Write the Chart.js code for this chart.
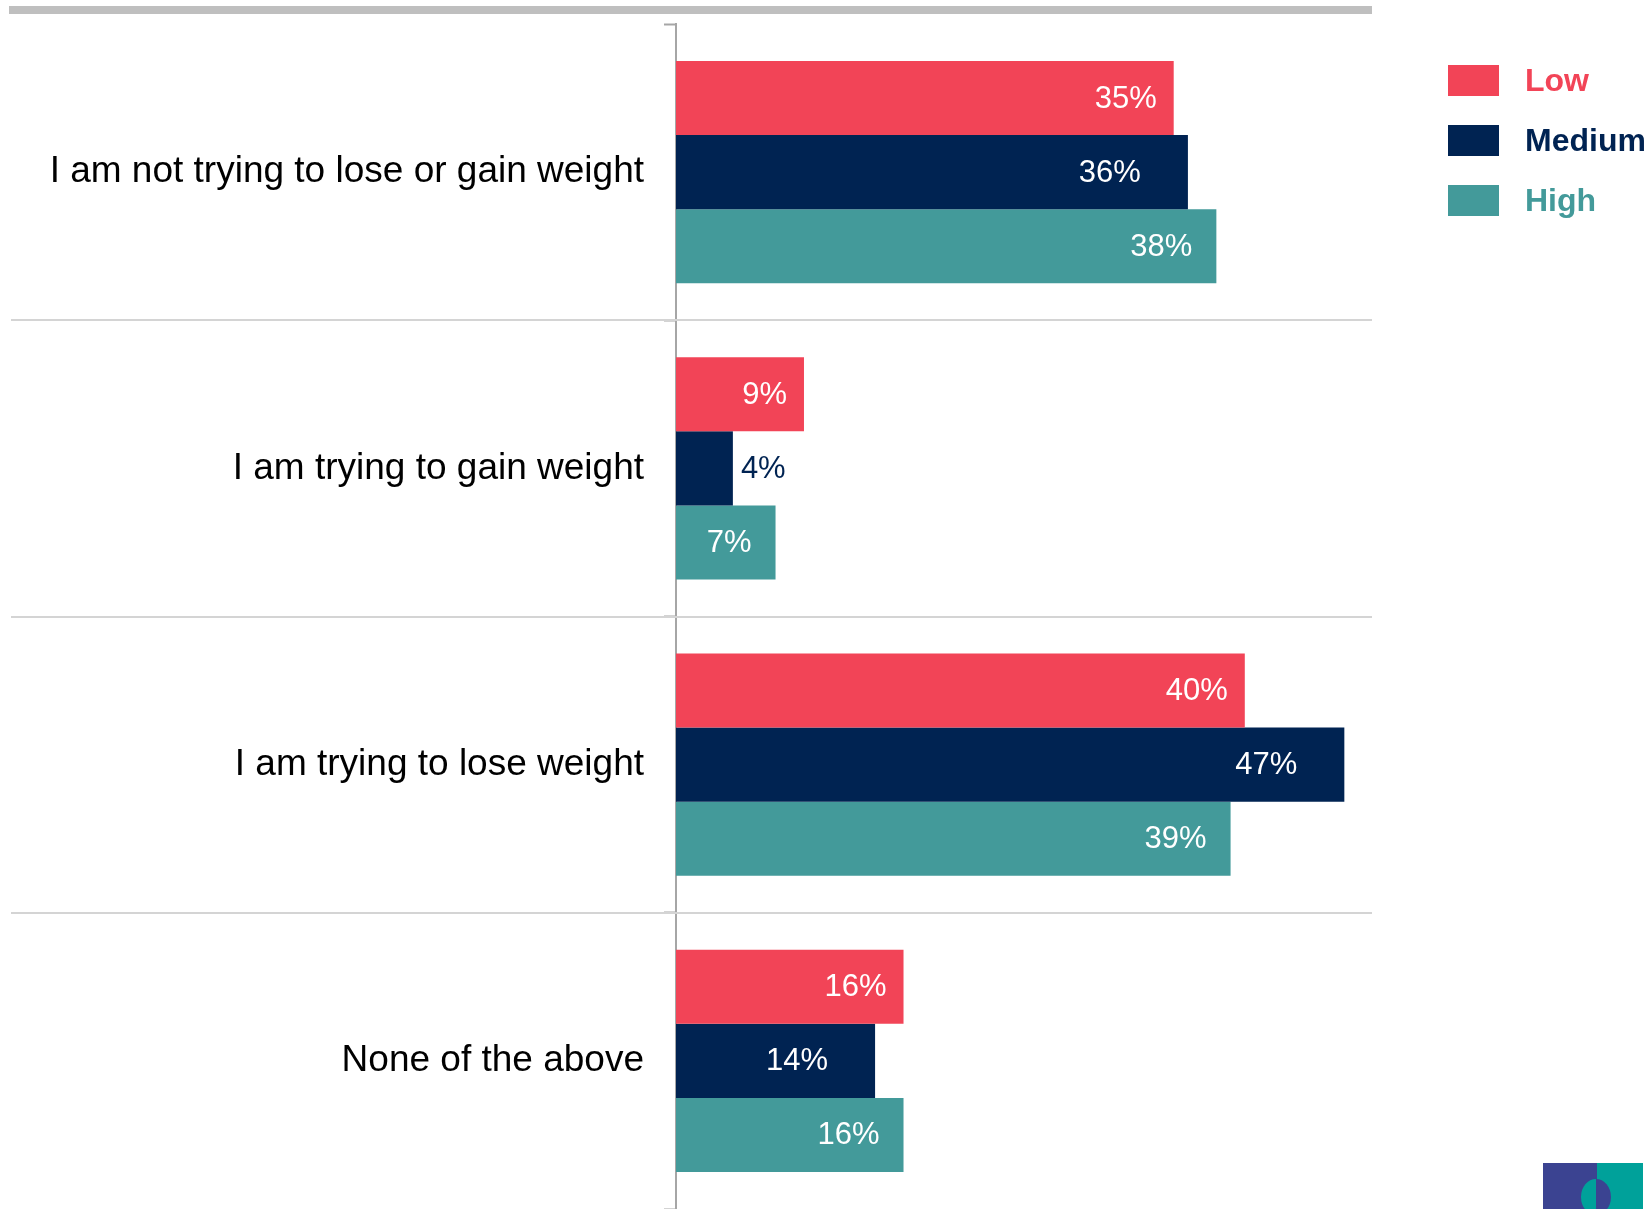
<!DOCTYPE html>
<html>
<head>
<meta charset="utf-8">
<script src="https://cdn.jsdelivr.net/npm/chart.js@4/dist/chart.umd.min.js"></script>
<style>
  html, body { margin: 0; padding: 0; background: #ffffff; }
  #wrap { position: relative; width: 1647px; height: 1209px; overflow: hidden; }
  #chart { position: absolute; left: 0; top: 0; }
  #topRule { position: absolute; left: 9px; top: 6px; width: 1363px; height: 8px; background: #bfbfbf; }
  #legend { position: absolute; left: 1448px; top: 65px; font-family: "Liberation Sans", Arial, sans-serif; }
  .item { position: absolute; left: 0; height: 31px; white-space: nowrap; }
  .swatch { position: absolute; left: 0; top: 0; width: 51px; height: 31px; }
  .name { position: absolute; left: 77px; top: -2px; font-size: 32px; font-weight: bold; line-height: 35px; }
  #logo { position: absolute; left: 1543px; top: 1163px; width: 100px; height: 46px; }
  #logo .l { position: absolute; left: 0; top: 0; width: 54px; height: 46px; background: #3b4391; }
  #logo .r { position: absolute; left: 54px; top: 0; width: 46px; height: 46px; background: #00a19a; }
  #logo .head { position: absolute; left: 38px; top: 16px; width: 30px; height: 36px; border-radius: 50%; background: linear-gradient(90deg, #00a19a 50%, #3b4391 50%); }
</style>
</head>
<body>
<div id="wrap">
  <div id="topRule"></div>
  <canvas id="chart" width="1647" height="1209"></canvas>
  <div id="legend"></div>
  <div id="logo"><div class="l"></div><div class="r"></div><div class="head"></div></div>
</div>
<script>
// Answer options shown down the left
const categories = [
  'I am not trying to lose or gain weight',
  'I am trying to gain weight',
  'I am trying to lose weight',
  'None of the above'
];

// Series (percent of respondents)
const seriesNames = ['Low', 'Medium', 'High'];
const lowValues = [35, 9, 40, 16];
const mediumValues = [36, 4, 47, 14];
const highValues = [38, 7, 39, 16];

const seriesColors = ['#f24457', '#002352', '#439a9a'];
// how far each series' value label sits in from the bar end
const labelInset = [17, 47, 24];

const FONT = '"Liberation Sans", Arial, sans-serif';

// Value labels drawn at the end of each bar
const valueLabels = {
  id: 'valueLabels',
  afterDatasetsDraw(chart) {
    const ctx = chart.ctx;
    ctx.save();
    ctx.font = '31px ' + FONT;
    ctx.textBaseline = 'middle';
    chart.data.datasets.forEach((ds, di) => {
      const meta = chart.getDatasetMeta(di);
      meta.data.forEach((bar, i) => {
        const text = ds.data[i] + '%';
        const w = ctx.measureText(text).width;
        const right = bar.x - labelInset[di];
        if (right - w < bar.base + 4) {
          ctx.fillStyle = seriesColors[di];
          ctx.textAlign = 'left';
          ctx.fillText(text, bar.x + 8, bar.y + 1);
        } else {
          ctx.fillStyle = '#ffffff';
          ctx.textAlign = 'right';
          ctx.fillText(text, right, bar.y + 1);
        }
      });
    });
    ctx.restore();
  }
};

// Light rules separating the answer groups, running under the labels too
const groupRules = {
  id: 'groupRules',
  beforeDatasetsDraw(chart) {
    const y = chart.scales.y;
    const ctx = chart.ctx;
    ctx.save();
    ctx.strokeStyle = '#d4d4d4';
    ctx.lineWidth = 2;
    for (let i = 1; i < categories.length; i++) {
      const py = Math.round((y.getPixelForValue(i - 1) + y.getPixelForValue(i)) / 2);
      ctx.beginPath();
      ctx.moveTo(11, py);
      ctx.lineTo(1372, py);
      ctx.stroke();
    }
    ctx.restore();
  }
};

new Chart(document.getElementById('chart'), {
  type: 'bar',
  data: {
    labels: categories,
    datasets: [
      { label: seriesNames[0], data: lowValues, backgroundColor: seriesColors[0] },
      { label: seriesNames[1], data: mediumValues, backgroundColor: seriesColors[1] },
      { label: seriesNames[2], data: highValues, backgroundColor: seriesColors[2] }
    ]
  },
  options: {
    indexAxis: 'y',
    responsive: false,
    animation: false,
    devicePixelRatio: 1,
    layout: { padding: { left: 0, right: 260, top: 24, bottom: 0 } },
    datasets: { bar: { categoryPercentage: 0.75, barPercentage: 1.0 } },
    plugins: { legend: { display: false }, tooltip: { enabled: false } },
    scales: {
      x: { display: false, min: 0, max: 50 },
      y: {
        afterFit(scale) {
          scale.width = 676;
          scale.paddingTop = 0;
          scale.paddingBottom = 0;
        },
        grid: { display: true, drawOnChartArea: false, drawTicks: true, tickLength: 12, tickColor: '#a6a6a6', tickWidth: 2 },
        border: { display: true, color: '#a6a6a6', width: 2 },
        ticks: { color: '#000000', padding: 20, font: { family: FONT, size: 37 } }
      }
    }
  },
  plugins: [groupRules, valueLabels]
});

// Legend built from the series arrays
const legend = document.getElementById('legend');
seriesNames.forEach((name, i) => {
  const item = document.createElement('div');
  item.className = 'item';
  item.style.top = (i * 60) + 'px';
  const sw = document.createElement('div');
  sw.className = 'swatch';
  sw.style.background = seriesColors[i];
  const tx = document.createElement('div');
  tx.className = 'name';
  tx.style.color = seriesColors[i];
  tx.textContent = name;
  item.appendChild(sw);
  item.appendChild(tx);
  legend.appendChild(item);
});
</script>
</body>
</html>
